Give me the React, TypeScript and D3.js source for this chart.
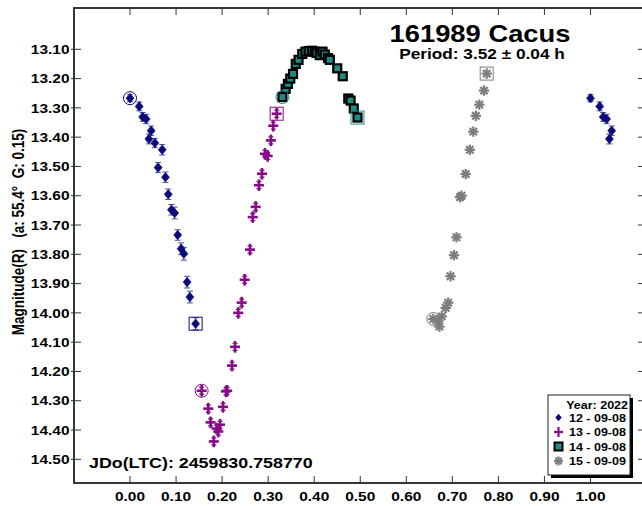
import React from "react";
import * as d3 from "d3";

// ---------- data ----------
const xTickValues = [0, 0.1, 0.2, 0.3, 0.4, 0.5, 0.6, 0.7, 0.8, 0.9, 1.0];
const yTickValues = [13.1, 13.2, 13.3, 13.4, 13.5, 13.6, 13.7, 13.8, 13.9, 14.0, 14.1, 14.2, 14.3, 14.4, 14.5];

const legendTitle = "Year: 2022";
const seriesNames = ["12 - 09-08", "13 - 09-08", "14 - 09-08", "15 - 09-09"];

// session 12 (navy diamonds, with error bars)
const phase12 = [0.0, 0.02, 0.0275, 0.035, 0.046, 0.041, 0.054, 0.07, 0.061, 0.077, 0.083, 0.09, 0.097, 0.1035, 0.111, 0.117, 0.124, 0.13, 0.1425];
const mag12 = [13.267, 13.295, 13.331, 13.338, 13.378, 13.406, 13.42, 13.443, 13.504, 13.537, 13.595, 13.648, 13.659, 13.734, 13.781, 13.798, 13.895, 13.946, 14.037];
const err12 = [0.012, 0.015, 0.015, 0.016, 0.016, 0.017, 0.016, 0.018, 0.017, 0.018, 0.018, 0.018, 0.02, 0.018, 0.02, 0.022, 0.02, 0.02, 0.02];

// session 13 (purple crosses)
const phase13 = [0.1556, 0.17, 0.175, 0.182, 0.188, 0.1918, 0.1955, 0.202, 0.2085, 0.211, 0.2215, 0.228, 0.235, 0.2425, 0.249, 0.2606, 0.2665, 0.273, 0.28, 0.2866, 0.293, 0.299, 0.306, 0.311, 0.3185];
const mag13 = [14.266, 14.327, 14.374, 14.439, 14.395, 14.405, 14.382, 14.321, 14.268, 14.266, 14.18, 14.116, 14.0, 13.965, 13.887, 13.784, 13.673, 13.638, 13.564, 13.525, 13.457, 13.464, 13.411, 13.361, 13.32];

// session 14 (teal squares)
const phase14 = [0.331, 0.338, 0.343, 0.348, 0.354, 0.36, 0.366, 0.374, 0.381, 0.388, 0.395, 0.401, 0.405, 0.412, 0.418, 0.423, 0.43, 0.434, 0.45, 0.462, 0.474, 0.479, 0.486, 0.494];
const mag14 = [13.263, 13.235, 13.218, 13.2, 13.184, 13.15, 13.136, 13.116, 13.108, 13.106, 13.105, 13.108, 13.112, 13.12, 13.108, 13.118, 13.13, 13.136, 13.165, 13.192, 13.268, 13.275, 13.302, 13.333];

// session 15 (gray asterisks)
const phase15 = [0.6587, 0.6695, 0.672, 0.677, 0.6856, 0.691, 0.696, 0.7036, 0.709, 0.7166, 0.72, 0.729, 0.738, 0.7455, 0.751, 0.7586, 0.7687, 0.7746];
const mag15 = [14.021, 14.029, 14.047, 14.012, 13.983, 13.965, 13.875, 13.803, 13.742, 13.605, 13.6, 13.526, 13.443, 13.381, 13.327, 13.289, 13.241, 13.183];

const WRAP_LIMIT = 0.05; // points with phase below this are repeated at phase + 1

// ---------- layout ----------
const W = 642;
const H = 506;
const FL = 74, FR = 646, FT = 8, FB = 483;
const SX = 1.19; // horizontal stretch of the text in the reference
const FONT = "'Liberation Sans', Arial, sans-serif";

const NAVY = "#0b0b7a";
const NAVY_ERR = "#4a4aa8";
const PURPLE = "#870a87";
const TEAL = "#1e8c84";
const GRAY = "#7d7d7d";

const x = d3.scaleLinear().domain([0, 1]).range([130, 590.5]);
const y = d3.scaleLinear().domain([13.1, 14.5]).range([49.3, 459.3]);

function T(props: { x: number; y: number; size: number; anchor?: string; children: React.ReactNode; rotate?: boolean; fill?: string }) {
  const tr = `translate(${props.x},${props.y}) scale(${SX},1)` + (props.rotate ? " rotate(-90)" : "");
  return (
    <text
      transform={tr}
      fontFamily={FONT}
      fontWeight="bold"
      fontSize={props.size}
      textAnchor={props.anchor || "start"}
      fill={props.fill || "#000"}
    >
      {props.children}
    </text>
  );
}

const diamondPath = (cx: number, cy: number, w = 4, h = 4.8) =>
  `M${cx},${cy - h}L${cx + w},${cy}L${cx},${cy + h}L${cx - w},${cy}Z`;

function Diamond({ cx, cy }: { cx: number; cy: number }) {
  return <path d={diamondPath(cx, cy)} fill={NAVY} stroke={NAVY} strokeWidth={0.6} />;
}
function Plus({ cx, cy }: { cx: number; cy: number }) {
  return (
    <g stroke={PURPLE} strokeWidth={2.6} strokeLinecap="butt">
      <line x1={cx - 5} y1={cy} x2={cx + 5} y2={cy} />
      <line x1={cx} y1={cy - 5.8} x2={cx} y2={cy + 5.8} />
      <line x1={cx - 2.5} y1={cy - 3.5} x2={cx + 2.5} y2={cy - 3.5} strokeWidth={1.2} />
      <line x1={cx - 2.5} y1={cy + 3.5} x2={cx + 2.5} y2={cy + 3.5} strokeWidth={1.2} />
    </g>
  );
}
function Square({ cx, cy, s = 8 }: { cx: number; cy: number; s?: number }) {
  return <rect x={cx - s / 2} y={cy - s / 2} width={s} height={s} fill={TEAL} stroke="#000" strokeWidth={2.2} />;
}
function Aster({ cx, cy, r = 5.2 }: { cx: number; cy: number; r?: number }) {
  const angles = [0, 45, 90, 135];
  return (
    <g stroke={GRAY} strokeWidth={2.2}>
      {angles.map((a) => {
        const rad = (a * Math.PI) / 180;
        const dx = Math.cos(rad) * r, dy = Math.sin(rad) * r;
        return <line key={a} x1={cx - dx} y1={cy - dy} x2={cx + dx} y2={cy + dy} />;
      })}
      <circle cx={cx} cy={cy} r={2} fill={GRAY} stroke="none" />
    </g>
  );
}

function Highlights({ px, my, color }: { px: number[]; my: number[]; color: string }) {
  const n = px.length - 1;
  return (
    <g fill="none" stroke={color} strokeWidth={1}>
      <circle cx={x(px[0])} cy={y(my[0])} r={6.5} />
      <rect x={x(px[n]) - 6.5} y={y(my[n]) - 6.5} width={13} height={13} />
    </g>
  );
}

export default function App() {
  const s12 = phase12.map((p, i) => ({ p, m: mag12[i], e: err12[i] }));
  const s12wrap = s12.filter((d) => d.p < WRAP_LIMIT).map((d) => ({ ...d, p: d.p + 1 }));
  const all12 = [...s12, ...s12wrap];

  const lx = 548, ly = 395, lw = 82, lh = 80;
  const rowY = [417.5, 432, 446.5, 461];

  return (
    <svg width={W} height={H} style={{ position: "absolute", left: 0, top: 0, background: "#fff" }}>
      <rect x={0} y={0} width={W} height={H} fill="#fff" />
      {/* frame */}
      <rect x={FL} y={FT} width={FR - FL} height={FB - FT} fill="none" stroke="#222" strokeWidth={1.8} />

      {/* x ticks */}
      {xTickValues.map((v) => (
        <g key={"xt" + v}>
          <line x1={x(v)} x2={x(v)} y1={FB} y2={FB - 7} stroke="#333" strokeWidth={1} />
          <line x1={x(v)} x2={x(v)} y1={FT} y2={FT + 7} stroke="#333" strokeWidth={1} />
          <T x={x(v)} y={500.5} size={13} anchor="middle">{v.toFixed(2)}</T>
        </g>
      ))}
      {/* y ticks */}
      {yTickValues.map((v) => (
        <g key={"yt" + v}>
          <line x1={FL - 3} x2={FL + 7} y1={y(v)} y2={y(v)} stroke="#333" strokeWidth={1} />
          <line x1={FR - 8} x2={FR} y1={y(v)} y2={y(v)} stroke="#333" strokeWidth={1} />
          <T x={69.5} y={y(v) + 4.7} size={13} anchor="end">{v.toFixed(2)}</T>
        </g>
      ))}

      {/* y axis title */}
      <T x={24} y={232} size={13.5} anchor="middle" rotate>
        {"Magnitude(R)\u00a0\u00a0\u00a0(a: 55.4\u00b0\u00a0\u00a0G: 0.15)"}
      </T>

      {/* titles */}
      <T x={480} y={41.5} size={23} anchor="middle">161989 Cacus</T>
      <T x={482} y={59} size={14.5} anchor="middle">Period: 3.52 ± 0.04 h</T>
      <T x={89} y={468} size={15} anchor="start">JDo(LTC): 2459830.758770</T>

      {/* session 12 */}
      <g>
        {all12.map((d, i) => (
          <g key={"e12" + i} stroke={NAVY_ERR} strokeWidth={1}>
            <line x1={x(d.p)} x2={x(d.p)} y1={y(d.m - d.e)} y2={y(d.m + d.e)} />
            <line x1={x(d.p) - 3} x2={x(d.p) + 3} y1={y(d.m - d.e)} y2={y(d.m - d.e)} />
            <line x1={x(d.p) - 3} x2={x(d.p) + 3} y1={y(d.m + d.e)} y2={y(d.m + d.e)} />
          </g>
        ))}
        {all12.map((d, i) => (
          <Diamond key={"d12" + i} cx={x(d.p)} cy={y(d.m)} />
        ))}
        <Highlights px={phase12} my={mag12} color={NAVY} />
      </g>

      {/* session 13 */}
      <g>
        {phase13.map((p, i) => (
          <Plus key={"p13" + i} cx={x(p)} cy={y(mag13[i])} />
        ))}
        <Highlights px={phase13} my={mag13} color={PURPLE} />
      </g>

      {/* session 14 */}
      <g>
        {phase14.map((p, i) => (
          <Square key={"s14" + i} cx={x(p)} cy={y(mag14[i])} />
        ))}
        <Highlights px={phase14} my={mag14} color={TEAL} />
      </g>

      {/* session 15 */}
      <g>
        {phase15.map((p, i) => (
          <Aster key={"a15" + i} cx={x(p)} cy={y(mag15[i])} />
        ))}
        <Highlights px={phase15} my={mag15} color={GRAY} />
      </g>

      {/* legend */}
      <g>
        <rect x={lx + 3} y={ly + 3} width={lw} height={lh} fill="#000" />
        <rect x={lx} y={ly} width={lw} height={lh} fill="#fff" stroke="#222" strokeWidth={1} />
        <T x={lx + 80} y={408.5} size={10.5} anchor="end">{legendTitle}</T>
        <path d={diamondPath(558.5, rowY[0] + 0, 3.2, 3.8)} fill={NAVY} />
        <g stroke={PURPLE} strokeWidth={2.2}>
          <line x1={554} x2={563} y1={rowY[1]} y2={rowY[1]} />
          <line x1={558.5} x2={558.5} y1={rowY[1] - 5} y2={rowY[1] + 5} />
        </g>
        <rect x={554.5} y={rowY[2] - 4} width={8} height={8} fill={TEAL} stroke="#000" strokeWidth={2} />
        <Aster cx={558.5} cy={rowY[3]} r={4.5} />
        {seriesNames.map((s, i) => (
          <T key={s} x={569} y={rowY[i] + 4.3} size={10.5} anchor="start">{s}</T>
        ))}
      </g>
    </svg>
  );
}
